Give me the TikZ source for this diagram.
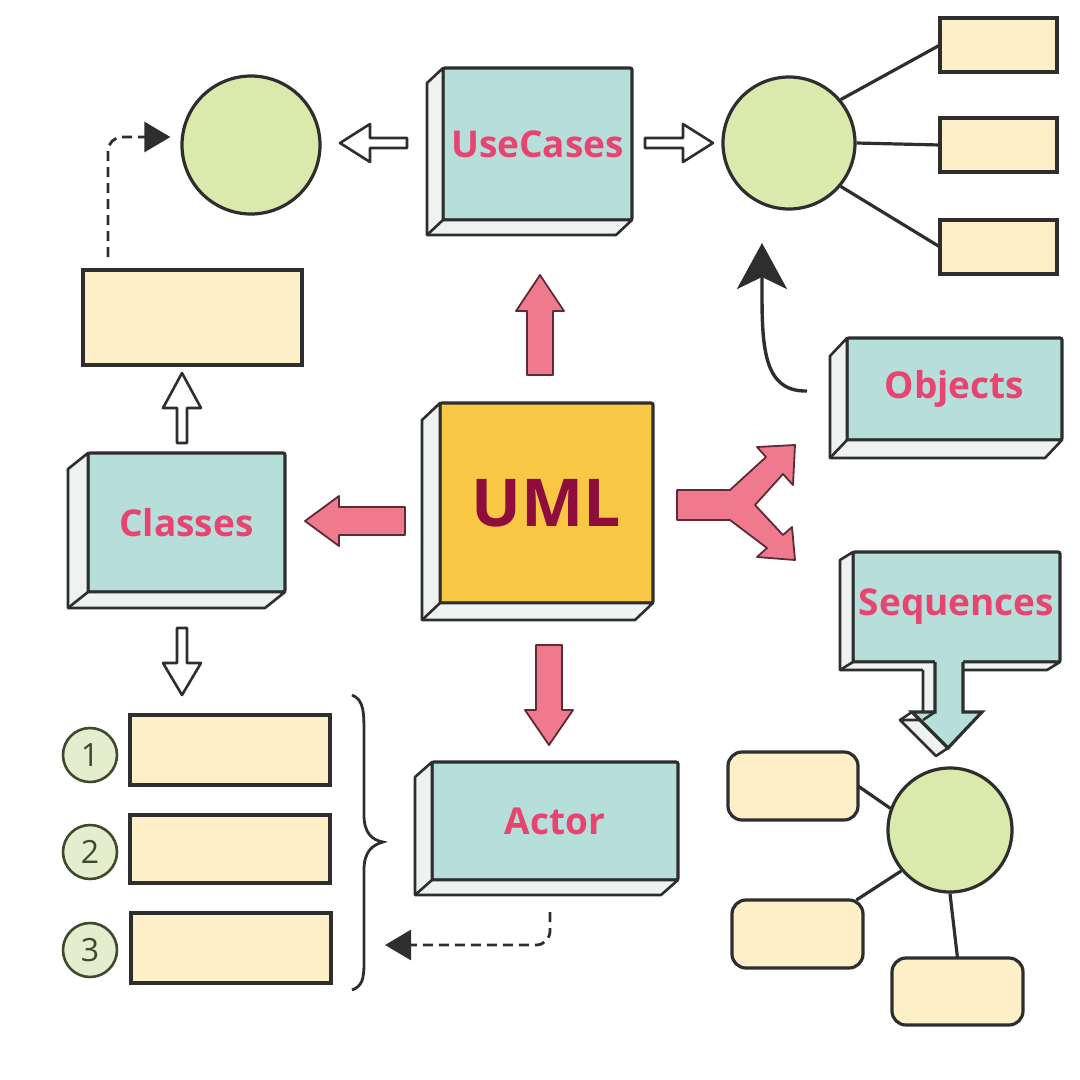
\documentclass[tikz,border=0pt]{standalone}
\usepackage{fontspec}
\setmainfont{Open Sans}
\usetikzlibrary{calc,arrows.meta}

\definecolor{inkgray}{HTML}{2E2E2E}
\definecolor{slabteal}{HTML}{B6DFDB}
\definecolor{slabside}{HTML}{EEF2F1}
\definecolor{umlyel}{HTML}{F8C744}
\definecolor{cream}{HTML}{FDF0C9}
\definecolor{leaf}{HTML}{DAE9AC}
\definecolor{numfill}{HTML}{E4EECD}
\definecolor{numgreen}{HTML}{3D4A2E}
\definecolor{pinkarr}{HTML}{F07A8D}
\definecolor{pinkedge}{HTML}{5E2A33}
\definecolor{lblpink}{HTML}{E9446F}
\definecolor{umlred}{HTML}{8E0D3D}

\tikzset{
  ink/.style={draw=inkgray, line width=3.2pt},
  slab/.style={ink, fill=slabteal, rounded corners=2pt, outer sep=0pt, inner sep=2pt,
    font=\bfseries\fontsize{37}{40}\selectfont, text=lblpink},
  side/.style={draw=inkgray, line width=2.6pt, fill=slabside, line join=round},
  note/.style={ink, fill=cream, outer sep=0pt},
  bubble/.style={ink, circle, fill=leaf, inner sep=0pt},
  numc/.style={draw=numgreen, line width=2.6pt, circle, fill=numfill, minimum size=54pt,
    inner sep=0pt, text=numgreen, font=\fontsize{32}{32}\selectfont},
  pinkbar/.style={fill=pinkarr, draw=pinkedge, line width=1.8pt, line join=round},
  hollowbar/.style={fill=white, draw=inkgray, line width=2.6pt, line join=round},
  dasharr/.style={draw=inkgray, line width=2.8pt, dash pattern=on 10pt off 6pt,
    rounded corners=14pt, -{Triangle[length=26pt,width=30pt]}},
}

% side panels of a slab node: #1 node, #2 depth left, #3 depth down
\newcommand\slabsides[3]{%
  \filldraw[side] (#1.north west) -- ++(-#2,#3) -- ($(#1.south west)+(-#2,#3)$)
    -- ($(#1.south east)+(-#2,#3)$) -- (#1.south east) -- (#1.south west) -- cycle;
  \draw[side] (#1.south west) -- ++(-#2,#3);
}
% block arrow: style, origin, angle, length, shaft half, head half, head length
\newcommand\barrow[7]{%
  \draw[#1, shift={#2}, rotate=#3] (0,-#5) -- (#4-#7,-#5) -- (#4-#7,-#6) -- (#4,0)
    -- (#4-#7,#6) -- (#4-#7,#5) -- (0,#5) -- cycle;
}

\begin{document}
\begin{tikzpicture}[x=1pt, y=-1pt]
  \useasboundingbox (0,0) rectangle (1080,1080);

  % slabs
  \node[slab, minimum width=189pt, minimum height=152pt] (uc) at (537.5,144) {UseCases};
  \slabsides{uc}{16}{15}
  \node[slab, fill=umlyel, text=umlred, font=\bfseries\fontsize{66}{70}\selectfont,
    minimum width=213pt, minimum height=200pt] (uml) at (546.5,503) {UML};
  \slabsides{uml}{18}{17}
  \node[slab, minimum width=197pt, minimum height=139pt] (cls) at (186.5,522.5) {Classes};
  \slabsides{cls}{20}{16}
  \node[slab, minimum width=215pt, minimum height=102pt] (obj) at (954.5,389) {Objects};
  \slabsides{obj}{17}{18}
  \node[slab, minimum width=207pt, minimum height=110pt] (seq) at (956.5,607) {Sequences};
  \slabsides{seq}{13}{8}
  \node[slab, minimum width=246pt, minimum height=118pt] (act) at (555,821) {Actor};
  \slabsides{act}{17}{15}

  % arrow out of Sequences
  \fill[slabside] (923,668) -- (923,720) -- (900,720) -- (936,756) -- (970,720) -- (951,720) -- (951,668) -- cycle;
  \draw[side] (923,670) -- (923,720) -- (900,720) -- (936,756) -- (948,748);
  \fill[slabteal] (935,660) -- (935,712) -- (912,712) -- (948,748) -- (982,712) -- (963,712) -- (963,660) -- cycle;
  \draw[ink] (935,662) -- (935,712) -- (912,712) -- (948,748) -- (982,712) -- (963,712) -- (963,662);
  \draw[side] (935,712) -- (923,720) (912,712) -- (900,720);

  % circles and boxes
  \node[bubble, minimum size=138pt] (tlc) at (251,145) {};
  \node[bubble, minimum size=132pt] (trc) at (789,143) {};
  \node[bubble, minimum size=124pt] (brc) at (950,830) {};
  \node[note, minimum width=219pt, minimum height=95pt] (lr) at (192.5,317.5) {};
  \node[note, minimum width=117pt, minimum height=54pt] (r1) at (998.5,45) {};
  \node[note, minimum width=117pt, minimum height=54pt] (r2) at (998.5,145) {};
  \node[note, minimum width=117pt, minimum height=54pt] (r3) at (998.5,247) {};
  \node[note, minimum width=200pt, minimum height=70pt] (n1) at (230,750) {};
  \node[note, minimum width=200pt, minimum height=68pt] (n2) at (230,849) {};
  \node[note, minimum width=200pt, minimum height=70pt] (n3) at (231,948) {};
  \node[numc] (c1) at (90,755) {1};
  \node[numc] (c2) at (90,852) {2};
  \node[numc] (c3) at (90,950) {3};
  \node[note, rounded corners=14pt, minimum width=130pt, minimum height=68pt] (ra) at (793,786) {};
  \node[note, rounded corners=14pt, minimum width=131pt, minimum height=68pt] (rb) at (797.5,934) {};
  \node[note, rounded corners=14pt, minimum width=131pt, minimum height=67pt] (rc) at (957.5,991.5) {};

  \draw[ink] (trc.40) -- (r1.west);
  \draw[ink] (trc.east) -- (r2.west);
  \draw[ink] (trc.-40) -- (r3.west);
  \draw[ink] (ra.east) -- (brc.160);
  \draw[ink] (rb.30) -- (brc.220);
  \draw[ink] (brc.south) -- (rc.north);

  % block arrows
  \barrow{pinkbar}{(540,375)}{90}{100}{13}{24}{36}
  \barrow{pinkbar}{(405,521)}{180}{100}{14}{25}{34}
  \barrow{pinkbar}{(549,645)}{-90}{100}{13}{24}{35}
  \filldraw[pinkbar] (677,490) -- (730,490) -- (766,457) -- (757,447) -- (795,445) -- (793,485)
    -- (783,474) -- (755,505) -- (783,535) -- (792,527) -- (795,560) -- (757,557)
    -- (767,548) -- (730,520) -- (677,520) -- cycle;
  \barrow{hollowbar}{(407,143)}{180}{67}{5}{19}{30}
  \barrow{hollowbar}{(645,143)}{0}{68}{5}{19}{30}
  \barrow{hollowbar}{(182,443)}{90}{70}{5}{19}{35}
  \barrow{hollowbar}{(182,628)}{-90}{67}{5}{19}{32}

  % dashed and curved connectors
  \draw[dasharr] ($(lr.north west)+(25,-13)$) |- ($(tlc.west)+(-10,-8)$);
  \coordinate (dtip) at (385,945);
  \draw[dasharr] ($(act.south)+(-5,32)$) |- (dtip);
  \coordinate (ctail) at ($(obj.west)+(-40,2)$);
  \coordinate (ctip) at (762,243);
  \draw[ink, line width=3.4pt, -{Stealth[length=46pt,width=50pt,inset=12pt]}]
    (ctail) .. controls (760,392) and (762,340) .. (ctip);

  % brace
  \draw[ink, line width=2.8pt] (352,695) .. controls (364,700) and (364,712) .. (364,735)
    -- (364,815) .. controls (364,833) and (372,840) .. (383,842)
    .. controls (372,845) and (364,852) .. (364,870) -- (364,962)
    .. controls (364,980) and (362,986) .. (352,990);
\end{tikzpicture}
\end{document}
